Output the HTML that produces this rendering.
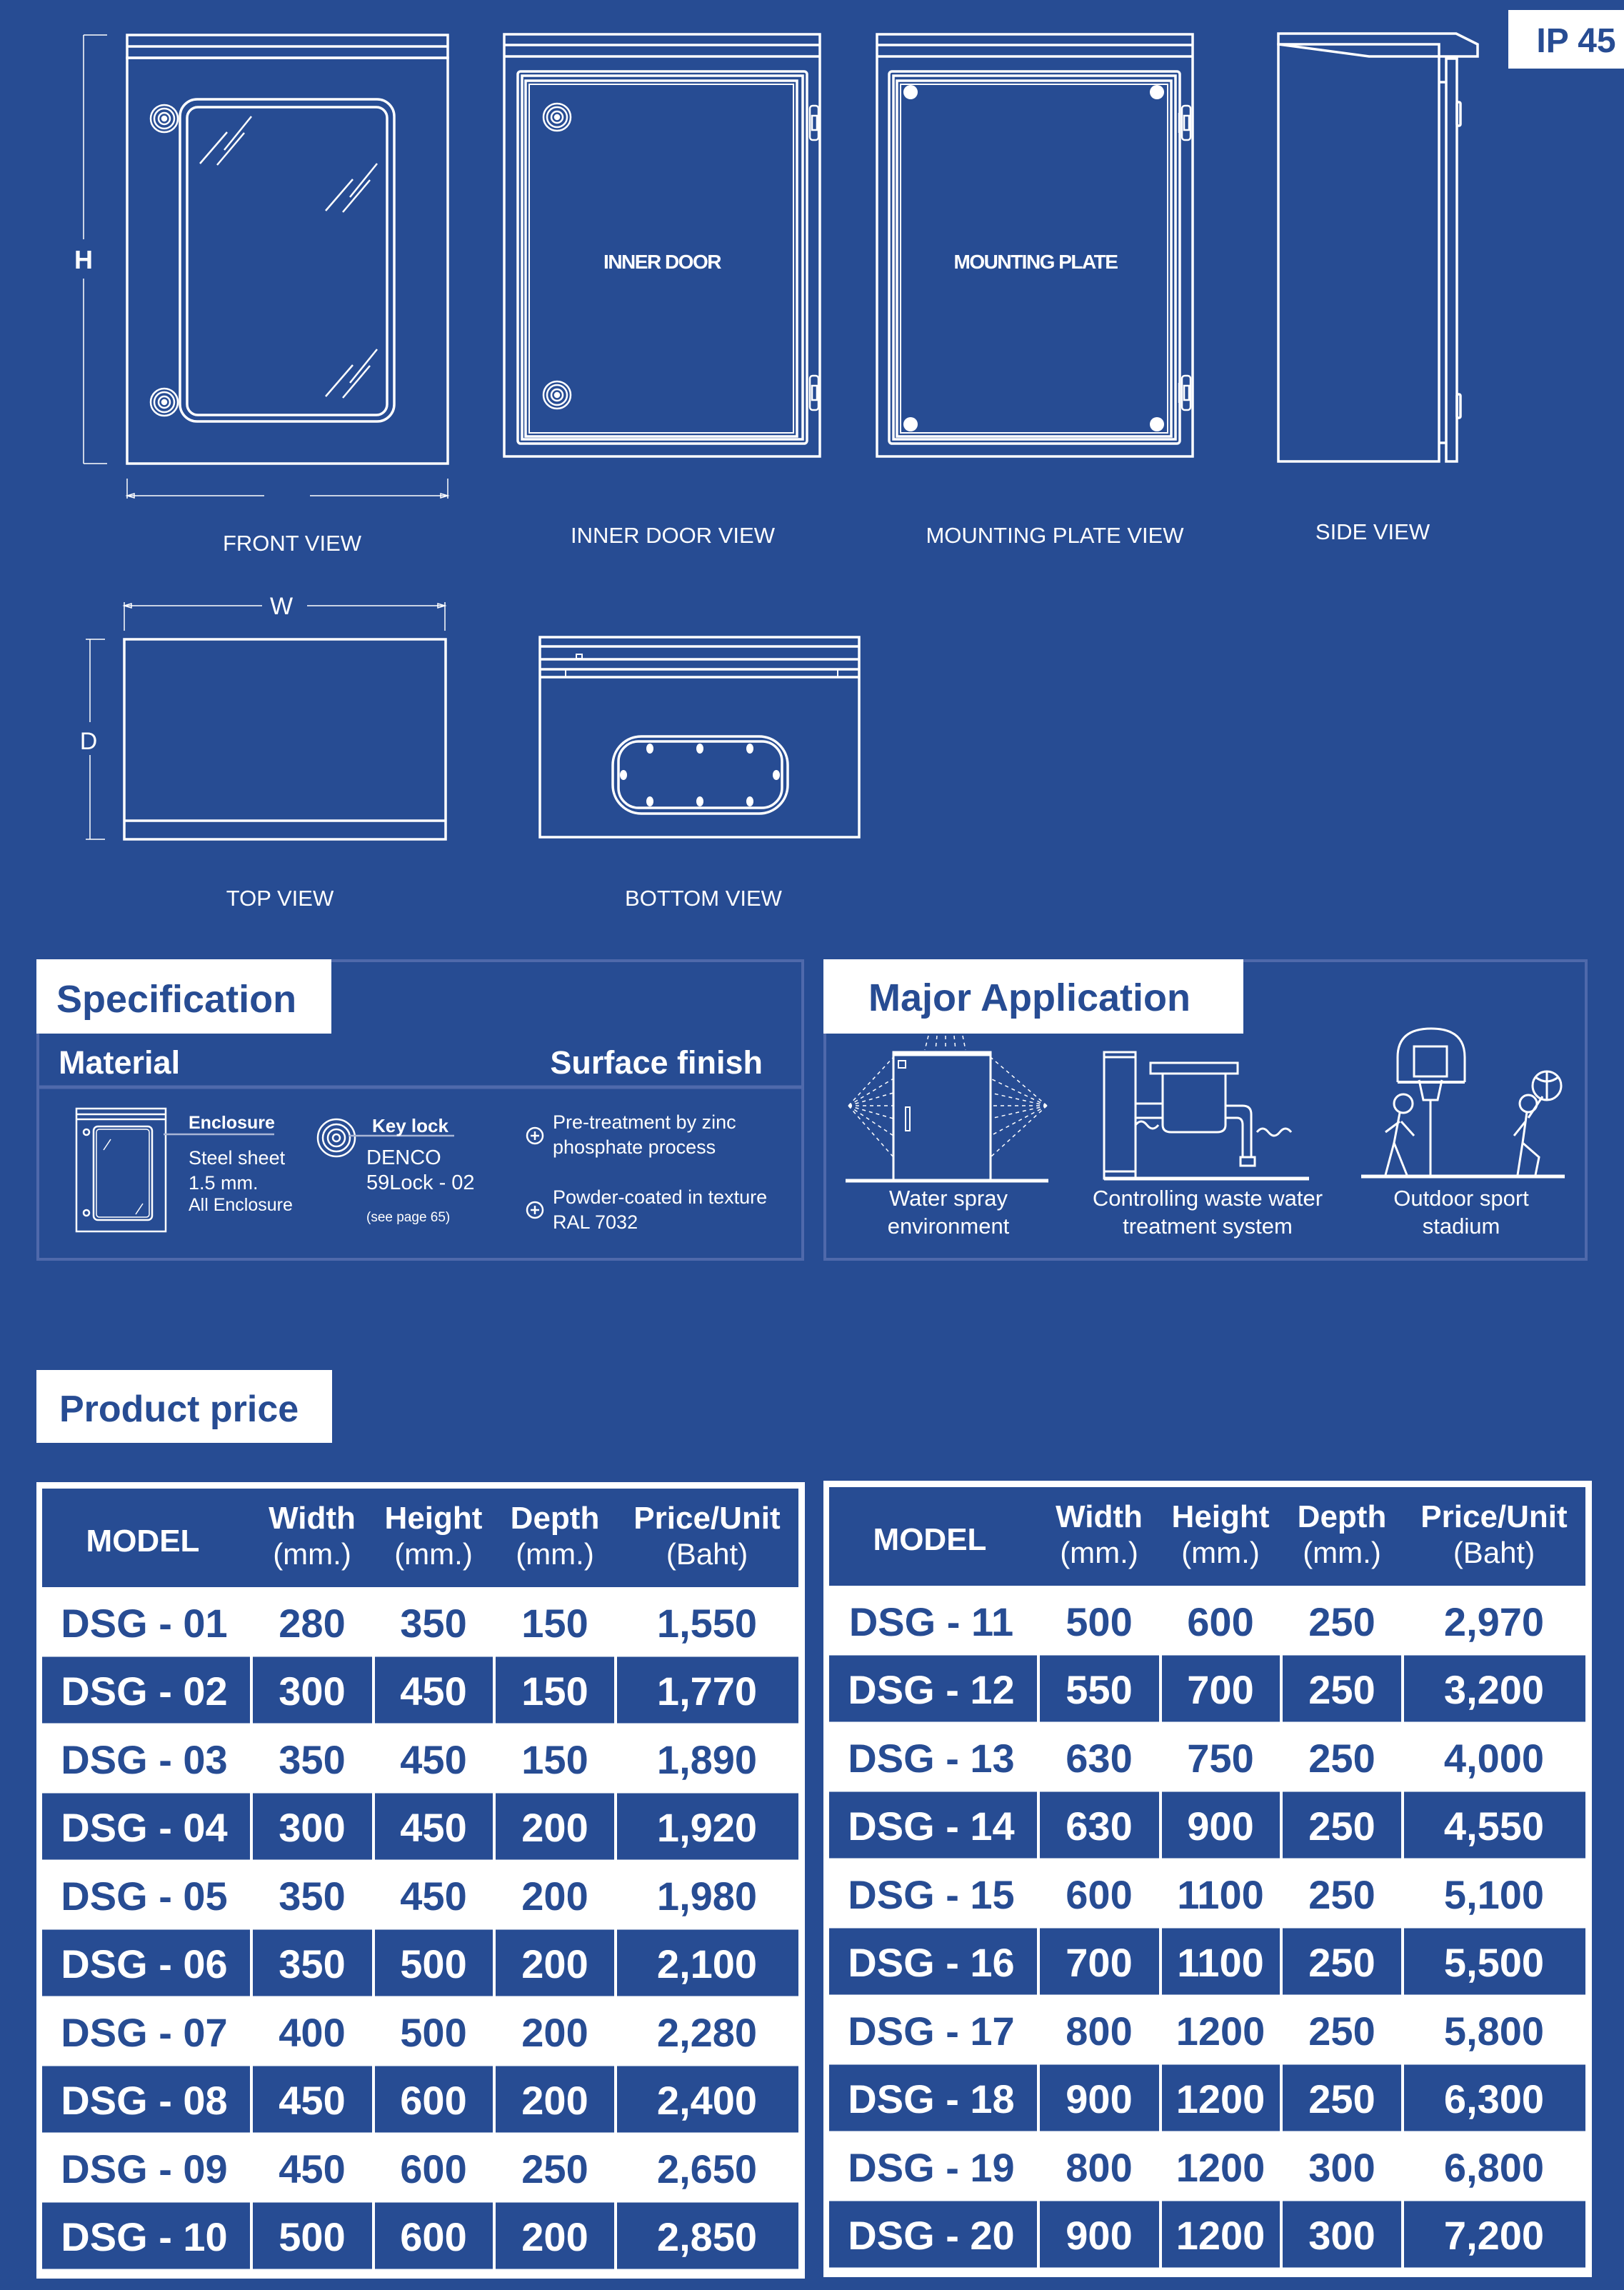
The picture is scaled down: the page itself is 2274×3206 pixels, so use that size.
<!DOCTYPE html>
<html><head><meta charset="utf-8"><style>
html,body{margin:0;padding:0;background:#274c93;}
svg{display:block;}
text{font-family:"Liberation Sans",sans-serif;}
</style></head><body>
<svg width="2274" height="3206" viewBox="0 0 2274 3206" xmlns="http://www.w3.org/2000/svg">
<rect x="0" y="0" width="2274" height="3206" fill="#274c93"/>
<defs>
<g id="knob" fill="none" stroke="#fff" stroke-width="2.5"><circle r="19"/><circle r="14"/><circle r="8"/><circle r="3" fill="#fff"/></g>
<g id="glare" stroke="#fff" stroke-width="2.5" fill="none"><line x1="280" y1="229" x2="318" y2="185"/><line x1="314" y1="210" x2="352" y2="163"/><line x1="304" y1="231" x2="342" y2="186"/></g>
<g id="hinge" fill="none" stroke="#fff" stroke-width="2.5"><rect x="-6" y="0" width="12" height="48" rx="4"/><rect x="-3" y="14" width="7" height="20"/><line x1="-10" y1="10" x2="-10" y2="38"/></g>
</defs>
<g fill="none" stroke="#fff" stroke-width="3.5">
<!-- FRONT VIEW -->
<rect x="178" y="49" width="449" height="32"/><line x1="178" y1="65" x2="627" y2="65"/>
<rect x="178" y="81" width="449" height="568"/>
<rect x="252" y="139" width="300" height="451" rx="24"/>
<rect x="262" y="150" width="280" height="431" rx="15"/>
</g>
<use href="#knob" x="230" y="166"/><use href="#knob" x="230" y="563"/>
<use href="#glare"/><use href="#glare" transform="translate(176,66)"/><use href="#glare" transform="translate(176,326)"/>
<g stroke="#fff" stroke-width="1.5" fill="none">
<line x1="117" y1="49" x2="117" y2="335"/><line x1="117" y1="390" x2="117" y2="649"/>
<line x1="117" y1="49" x2="150" y2="49"/><line x1="117" y1="649" x2="150" y2="649"/>
<line x1="178" y1="670" x2="178" y2="698"/><line x1="627" y1="670" x2="627" y2="698"/>
<line x1="178" y1="694" x2="370" y2="694"/><line x1="434" y1="694" x2="627" y2="694"/>
<path d="M178 694 l10 -3 v6 z M627 694 l-10 -3 v6 z"/>
</g>
<text x="117" y="376" fill="#fff" font-size="36" font-weight="bold" text-anchor="middle">H</text>
<text x="409" y="771" fill="#fff" font-size="31" text-anchor="middle">FRONT  VIEW</text>

<!-- INNER DOOR VIEW -->
<g fill="none" stroke="#fff" stroke-width="3.5">
<rect x="706" y="48" width="442" height="591"/><line x1="706" y1="63" x2="1148" y2="63"/><line x1="706" y1="79" x2="1148" y2="79"/>
<rect x="725" y="100" width="405" height="521" rx="4"/>
<rect x="731" y="106" width="393" height="509"/>
<rect x="736" y="113" width="380" height="498"/>
<rect x="741" y="118" width="370" height="488" stroke-width="2"/>
</g>
<use href="#knob" x="780" y="164"/><use href="#knob" x="780" y="553"/>
<use href="#hinge" x="1140" y="148"/><use href="#hinge" x="1140" y="526"/>
<text x="927" y="376" fill="#fff" font-size="28" font-weight="bold" text-anchor="middle" letter-spacing="-1.5">INNER DOOR</text>
<text x="942" y="760" fill="#fff" font-size="31" text-anchor="middle">INNER  DOOR VIEW</text>

<!-- MOUNTING PLATE VIEW -->
<g fill="none" stroke="#fff" stroke-width="3.5">
<rect x="1228" y="48" width="442" height="591"/><line x1="1228" y1="63" x2="1670" y2="63"/><line x1="1228" y1="79" x2="1670" y2="79"/>
<rect x="1245" y="100" width="407" height="521" rx="4"/>
<rect x="1251" y="106" width="395" height="509"/>
<rect x="1256" y="113" width="384" height="498"/>
<rect x="1261" y="118" width="374" height="488" stroke-width="2"/>
</g>
<g fill="#fff"><circle cx="1275" cy="129" r="10"/><circle cx="1620" cy="129" r="10"/><circle cx="1275" cy="594" r="10"/><circle cx="1620" cy="594" r="10"/></g>
<use href="#hinge" x="1661" y="148"/><use href="#hinge" x="1661" y="526"/>
<text x="1450" y="376" fill="#fff" font-size="28" font-weight="bold" text-anchor="middle" letter-spacing="-1.5">MOUNTING PLATE</text>
<text x="1477" y="760" fill="#fff" font-size="31" text-anchor="middle">MOUNTING PLATE  VIEW</text>

<!-- SIDE VIEW -->
<g fill="none" stroke="#fff" stroke-width="3.5">
<path d="M1790 47 H2039 L2069 62 V79 H1917 L1790 62 Z"/>
<rect x="1790" y="62" width="225" height="584"/>
<rect x="2025" y="82" width="15" height="564"/>
<line x1="2015" y1="115" x2="2025" y2="115"/><line x1="2015" y1="620" x2="2025" y2="620"/>
<rect x="2040" y="143" width="5" height="33" rx="2"/><rect x="2040" y="552" width="5" height="33" rx="2"/>
</g>
<text x="1922" y="755" fill="#fff" font-size="31" text-anchor="middle">SIDE  VIEW</text>

<!-- IP45 -->
<rect x="2112" y="14" width="162" height="82" fill="#fff"/>
<text x="2207" y="73" fill="#274c93" font-size="48" font-weight="bold" text-anchor="middle">IP 45</text>

<!-- TOP VIEW -->
<g fill="none" stroke="#fff" stroke-width="3.5">
<rect x="174" y="895" width="450" height="280"/><line x1="174" y1="1149" x2="624" y2="1149"/>
</g>
<g stroke="#fff" stroke-width="1.5" fill="none">
<line x1="174" y1="848" x2="367" y2="848"/><line x1="430" y1="848" x2="623" y2="848"/>
<line x1="174" y1="843" x2="174" y2="883"/><line x1="623" y1="843" x2="623" y2="883"/>
<path d="M174 848 l10 -3 v6 z M623 848 l-10 -3 v6 z"/>
<line x1="126" y1="895" x2="126" y2="1011"/><line x1="126" y1="1057" x2="126" y2="1175"/>
<line x1="120" y1="895" x2="147" y2="895"/><line x1="120" y1="1175" x2="147" y2="1175"/>
</g>
<text x="394" y="860" fill="#fff" font-size="34" text-anchor="middle">W</text>
<text x="124" y="1049" fill="#fff" font-size="34" text-anchor="middle">D</text>
<text x="392" y="1268" fill="#fff" font-size="31" text-anchor="middle">TOP VIEW</text>

<!-- BOTTOM VIEW -->
<g fill="none" stroke="#fff" stroke-width="3.5">
<rect x="756" y="892" width="447" height="280"/>
<line x1="756" y1="905" x2="1203" y2="905"/><line x1="756" y1="923" x2="1203" y2="923"/>
<line x1="756" y1="937" x2="1203" y2="937"/><line x1="756" y1="948" x2="1203" y2="948"/>
<line x1="792" y1="937" x2="792" y2="948" stroke-width="2"/><line x1="1173" y1="937" x2="1173" y2="948" stroke-width="2"/>
<rect x="807" y="916" width="8" height="6" stroke-width="2"/>
<rect x="858" y="1031" width="245" height="108" rx="40"/>
<rect x="866" y="1038" width="229" height="93" rx="28"/>
</g>
<g fill="#fff"><ellipse cx="910" cy="1048" rx="5" ry="7"/><ellipse cx="980" cy="1048" rx="5" ry="7"/><ellipse cx="1050" cy="1048" rx="5" ry="7"/>
<ellipse cx="910" cy="1122" rx="5" ry="7"/><ellipse cx="980" cy="1122" rx="5" ry="7"/><ellipse cx="1050" cy="1122" rx="5" ry="7"/>
<ellipse cx="873" cy="1085" rx="5" ry="7"/><ellipse cx="1087" cy="1085" rx="5" ry="7"/></g>
<text x="985" y="1268" fill="#fff" font-size="31" text-anchor="middle">BOTTOM  VIEW</text>

<!-- SPECIFICATION -->
<rect x="53" y="1345" width="1071" height="418" fill="none" stroke="#4f69ab" stroke-width="4"/>
<line x1="53" y1="1522" x2="1124" y2="1522" stroke="#4f69ab" stroke-width="5"/>
<rect x="51" y="1343" width="413" height="104" fill="#fff"/>
<text x="79" y="1417" fill="#274c93" font-size="54" font-weight="bold">Specification</text>
<text x="82" y="1503" fill="#fff" font-size="45" font-weight="bold">Material</text>
<text x="1068" y="1503" fill="#fff" font-size="45" font-weight="bold" text-anchor="end">Surface finish</text>
<g fill="none" stroke="#fff" stroke-width="2.5">
<rect x="107" y="1552" width="125" height="172"/><line x1="107" y1="1560" x2="232" y2="1560"/><line x1="107" y1="1567" x2="232" y2="1567"/>
<rect x="131" y="1577" width="82" height="131" rx="6"/><rect x="135" y="1581" width="74" height="123" rx="4" stroke-width="1.5"/>
<circle cx="121" cy="1585" r="4"/><circle cx="121" cy="1698" r="4"/>
<line x1="145" y1="1610" x2="155" y2="1595" stroke-width="1.5"/><line x1="190" y1="1700" x2="200" y2="1685" stroke-width="1.5"/>
<circle cx="471" cy="1593" r="26"/><circle cx="471" cy="1593" r="19"/><circle cx="471" cy="1593" r="12"/><circle cx="471" cy="1593" r="5"/>
<line x1="229" y1="1588" x2="384" y2="1588" stroke="#a9b6d6"/>
<line x1="489" y1="1590" x2="636" y2="1590" stroke="#a9b6d6"/>
<circle cx="749" cy="1590" r="11"/><line x1="743" y1="1590" x2="755" y2="1590"/><line x1="749" y1="1584" x2="749" y2="1596"/>
<circle cx="749" cy="1694" r="11"/><line x1="743" y1="1694" x2="755" y2="1694"/><line x1="749" y1="1688" x2="749" y2="1700"/>
</g>
<g fill="#fff" font-size="26">
<text x="264" y="1580" font-weight="bold" font-size="25">Enclosure</text>
<text x="264" y="1630" font-size="27">Steel sheet</text>
<text x="264" y="1665" font-size="27">1.5 mm.</text>
<text x="264" y="1695" font-size="25">All Enclosure</text>
<text x="521" y="1585" font-weight="bold" font-size="26">Key lock</text>
<text x="513" y="1630" font-size="29">DENCO</text>
<text x="513" y="1665" font-size="29">59Lock - 02</text>
<text x="513" y="1710" font-size="19">(see page 65)</text>
<text x="774" y="1580" font-size="27">Pre-treatment by zinc</text>
<text x="774" y="1615" font-size="27">phosphate process</text>
<text x="774" y="1685" font-size="27">Powder-coated in texture</text>
<text x="774" y="1720" font-size="27">RAL 7032</text>
</g>

<!-- MAJOR APPLICATION -->
<rect x="1155" y="1345" width="1066" height="418" fill="none" stroke="#4f69ab" stroke-width="4"/>
<rect x="1153" y="1343" width="588" height="104" fill="#fff"/>
<text x="1216" y="1415" fill="#274c93" font-size="54" font-weight="bold">Major Application</text>
<g fill="none" stroke="#fff" stroke-width="3">
<!-- water spray -->
<line x1="1184" y1="1653" x2="1468" y2="1653" stroke-width="5"/>
<rect x="1251" y="1473" width="136" height="180"/><line x1="1251" y1="1476" x2="1387" y2="1476" stroke-width="5"/>
<rect x="1258" y="1485" width="10" height="10" stroke-width="2"/>
<rect x="1268" y="1550" width="6" height="33" stroke-width="2"/>
<g stroke-dasharray="5 5" stroke-width="1.5">
<path d="M1188 1548 L1251 1480 M1188 1548 L1251 1510 M1188 1548 L1251 1530 M1188 1548 L1251 1548 M1188 1548 L1251 1566 M1188 1548 L1251 1590 M1188 1548 L1251 1620"/>
<path d="M1466 1548 L1387 1480 M1466 1548 L1387 1510 M1466 1548 L1387 1530 M1466 1548 L1387 1548 M1466 1548 L1387 1566 M1466 1548 L1387 1590 M1466 1548 L1387 1620"/>
<path d="M1300 1450 L1295 1470 M1312 1450 L1310 1470 M1324 1450 L1324 1470 M1336 1450 L1338 1470 M1348 1450 L1352 1470"/>
</g>
<!-- waste water -->
<rect x="1546" y="1473" width="44" height="177"/><line x1="1546" y1="1480" x2="1590" y2="1480"/><line x1="1546" y1="1640" x2="1590" y2="1640"/>
<line x1="1546" y1="1650" x2="1833" y2="1650" stroke-width="5"/>
<rect x="1611" y="1488" width="122" height="15"/>
<path d="M1628 1503 V1575 Q1628 1585 1640 1585 H1704 Q1716 1585 1716 1575 V1503"/>
<path d="M1590 1545 H1628 M1590 1565 H1628"/>
<path d="M1716 1548 H1740 Q1752 1548 1752 1560 V1620 M1716 1565 H1732 Q1740 1565 1740 1575 V1620"/>
<rect x="1737" y="1620" width="20" height="12"/>
<path d="M1590 1575 q8 -10 16 0 t16 0 M1760 1585 q8 -10 16 0 t16 0 t16 0"/>
<!-- sport -->
<line x1="1906" y1="1647" x2="2191" y2="1647" stroke-width="5"/>
<path d="M1957 1515 V1480 Q1957 1440 2004 1440 Q2051 1440 2051 1480 V1515"/>
<rect x="1980" y="1465" width="46" height="42"/>
<line x1="1957" y1="1515" x2="2051" y2="1515" stroke-width="4"/>
<path d="M1987 1512 L1993 1540 H2013 L2019 1512"/>
<line x1="2003" y1="1540" x2="2003" y2="1647"/>
<circle cx="1965" cy="1545" r="13"/><path d="M1960 1558 L1952 1600 L1940 1645 M1952 1600 L1970 1645 M1960 1570 L1940 1585 M1962 1570 L1980 1590"/>
<circle cx="2140" cy="1545" r="12"/><path d="M2138 1557 L2132 1600 L2125 1645 M2132 1600 L2155 1620 L2150 1645 M2136 1570 L2120 1590 M2140 1565 L2160 1535"/>
<circle cx="2166" cy="1520" r="20"/><path d="M2150 1508 Q2166 1520 2182 1508 M2166 1500 V1540"/>
</g>
<g fill="#fff" font-size="31" text-anchor="middle">
<text x="1328" y="1688">Water spray</text><text x="1328" y="1727">environment</text>
<text x="1691" y="1688">Controlling waste water</text><text x="1691" y="1727">treatment system</text>
<text x="2046" y="1688">Outdoor sport</text><text x="2046" y="1727">stadium</text>
</g>

<!-- PRODUCT PRICE -->
<rect x="51" y="1918" width="414" height="102" fill="#fff"/>
<text x="83" y="1990" fill="#274c93" font-size="52" font-weight="bold">Product price</text>

<!-- LEFT TABLE -->
<g id="tbl">
<rect x="51" y="2075" width="1076" height="1115" fill="#fff"/>
<rect x="59" y="2084" width="1059" height="138" fill="#274c93"/>
<g fill="#274c93">
<rect x="59" y="2319.5" width="291" height="93"/><rect x="354" y="2319.5" width="167" height="93"/><rect x="525" y="2319.5" width="165" height="93"/><rect x="694" y="2319.5" width="166" height="93"/><rect x="864" y="2319.5" width="254" height="93"/>
<rect x="59" y="2510.5" width="291" height="93"/><rect x="354" y="2510.5" width="167" height="93"/><rect x="525" y="2510.5" width="165" height="93"/><rect x="694" y="2510.5" width="166" height="93"/><rect x="864" y="2510.5" width="254" height="93"/>
<rect x="59" y="2701.5" width="291" height="93"/><rect x="354" y="2701.5" width="167" height="93"/><rect x="525" y="2701.5" width="165" height="93"/><rect x="694" y="2701.5" width="166" height="93"/><rect x="864" y="2701.5" width="254" height="93"/>
<rect x="59" y="2892.5" width="291" height="93"/><rect x="354" y="2892.5" width="167" height="93"/><rect x="525" y="2892.5" width="165" height="93"/><rect x="694" y="2892.5" width="166" height="93"/><rect x="864" y="2892.5" width="254" height="93"/>
<rect x="59" y="3083.5" width="291" height="93"/><rect x="354" y="3083.5" width="167" height="93"/><rect x="525" y="3083.5" width="165" height="93"/><rect x="694" y="3083.5" width="166" height="93"/><rect x="864" y="3083.5" width="254" height="93"/>
</g>
<g fill="#fff" text-anchor="middle">
<text x="200" y="2172" font-size="44" font-weight="bold">MODEL</text>
<text x="437" y="2140" font-size="44" font-weight="bold">Width</text><text x="437" y="2190" font-size="42">(mm.)</text>
<text x="607" y="2140" font-size="44" font-weight="bold">Height</text><text x="607" y="2190" font-size="42">(mm.)</text>
<text x="777" y="2140" font-size="44" font-weight="bold">Depth</text><text x="777" y="2190" font-size="42">(mm.)</text>
<text x="990" y="2140" font-size="44" font-weight="bold">Price/Unit</text><text x="990" y="2190" font-size="42">(Baht)</text>
</g>
</g>
<g font-size="56" font-weight="bold" text-anchor="middle">
<g fill="#274c93"><text x="202" y="2292">DSG - 01</text><text x="437" y="2292">280</text><text x="607" y="2292">350</text><text x="777" y="2292">150</text><text x="990" y="2292">1,550</text></g>
<g fill="#fff"><text x="202" y="2387">DSG - 02</text><text x="437" y="2387">300</text><text x="607" y="2387">450</text><text x="777" y="2387">150</text><text x="990" y="2387">1,770</text></g>
<g fill="#274c93"><text x="202" y="2483">DSG - 03</text><text x="437" y="2483">350</text><text x="607" y="2483">450</text><text x="777" y="2483">150</text><text x="990" y="2483">1,890</text></g>
<g fill="#fff"><text x="202" y="2578">DSG - 04</text><text x="437" y="2578">300</text><text x="607" y="2578">450</text><text x="777" y="2578">200</text><text x="990" y="2578">1,920</text></g>
<g fill="#274c93"><text x="202" y="2674">DSG - 05</text><text x="437" y="2674">350</text><text x="607" y="2674">450</text><text x="777" y="2674">200</text><text x="990" y="2674">1,980</text></g>
<g fill="#fff"><text x="202" y="2769">DSG - 06</text><text x="437" y="2769">350</text><text x="607" y="2769">500</text><text x="777" y="2769">200</text><text x="990" y="2769">2,100</text></g>
<g fill="#274c93"><text x="202" y="2865">DSG - 07</text><text x="437" y="2865">400</text><text x="607" y="2865">500</text><text x="777" y="2865">200</text><text x="990" y="2865">2,280</text></g>
<g fill="#fff"><text x="202" y="2960">DSG - 08</text><text x="437" y="2960">450</text><text x="607" y="2960">600</text><text x="777" y="2960">200</text><text x="990" y="2960">2,400</text></g>
<g fill="#274c93"><text x="202" y="3056">DSG - 09</text><text x="437" y="3056">450</text><text x="607" y="3056">600</text><text x="777" y="3056">250</text><text x="990" y="3056">2,650</text></g>
<g fill="#fff"><text x="202" y="3151">DSG - 10</text><text x="437" y="3151">500</text><text x="607" y="3151">600</text><text x="777" y="3151">200</text><text x="990" y="3151">2,850</text></g>
</g>

<!-- RIGHT TABLE -->
<use href="#tbl" transform="translate(1102,-2)"/>
<g font-size="56" font-weight="bold" text-anchor="middle" transform="translate(1102,-2)">
<g fill="#274c93"><text x="202" y="2292">DSG - 11</text><text x="437" y="2292">500</text><text x="607" y="2292">600</text><text x="777" y="2292">250</text><text x="990" y="2292">2,970</text></g>
<g fill="#fff"><text x="202" y="2387">DSG - 12</text><text x="437" y="2387">550</text><text x="607" y="2387">700</text><text x="777" y="2387">250</text><text x="990" y="2387">3,200</text></g>
<g fill="#274c93"><text x="202" y="2483">DSG - 13</text><text x="437" y="2483">630</text><text x="607" y="2483">750</text><text x="777" y="2483">250</text><text x="990" y="2483">4,000</text></g>
<g fill="#fff"><text x="202" y="2578">DSG - 14</text><text x="437" y="2578">630</text><text x="607" y="2578">900</text><text x="777" y="2578">250</text><text x="990" y="2578">4,550</text></g>
<g fill="#274c93"><text x="202" y="2674">DSG - 15</text><text x="437" y="2674">600</text><text x="607" y="2674">1100</text><text x="777" y="2674">250</text><text x="990" y="2674">5,100</text></g>
<g fill="#fff"><text x="202" y="2769">DSG - 16</text><text x="437" y="2769">700</text><text x="607" y="2769">1100</text><text x="777" y="2769">250</text><text x="990" y="2769">5,500</text></g>
<g fill="#274c93"><text x="202" y="2865">DSG - 17</text><text x="437" y="2865">800</text><text x="607" y="2865">1200</text><text x="777" y="2865">250</text><text x="990" y="2865">5,800</text></g>
<g fill="#fff"><text x="202" y="2960">DSG - 18</text><text x="437" y="2960">900</text><text x="607" y="2960">1200</text><text x="777" y="2960">250</text><text x="990" y="2960">6,300</text></g>
<g fill="#274c93"><text x="202" y="3056">DSG - 19</text><text x="437" y="3056">800</text><text x="607" y="3056">1200</text><text x="777" y="3056">300</text><text x="990" y="3056">6,800</text></g>
<g fill="#fff"><text x="202" y="3151">DSG - 20</text><text x="437" y="3151">900</text><text x="607" y="3151">1200</text><text x="777" y="3151">300</text><text x="990" y="3151">7,200</text></g>
</g>
</svg>
</body></html>
